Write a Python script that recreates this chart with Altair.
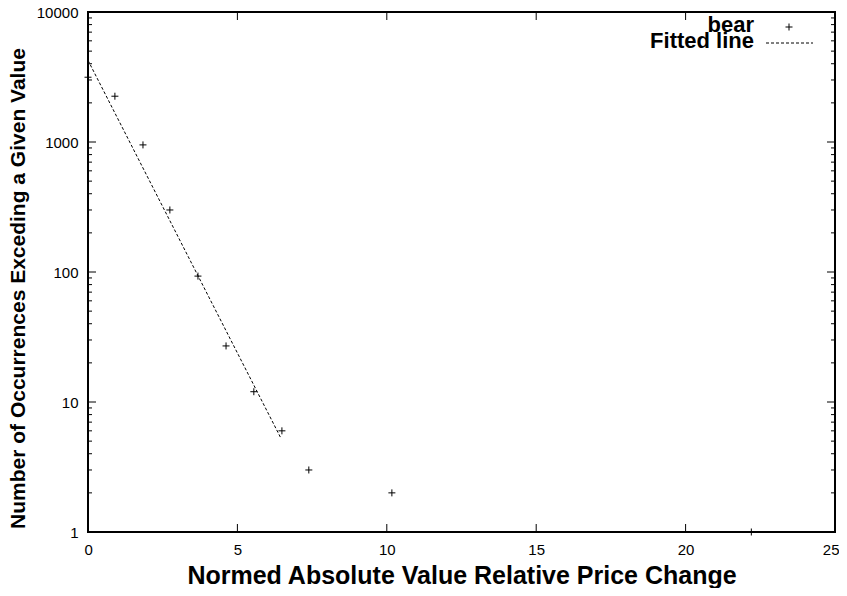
import altair as alt
import pandas as pd

# ---- data ----
bear_x = [0.0, 0.9, 1.84, 2.74, 3.68, 4.62, 5.55, 6.49, 7.39, 10.17, 22.2]
bear_y = [3150, 2250, 950, 300, 93, 27, 12, 6, 3, 2, 1]
fit_x = [0.0, 6.45]
fit_y = [4250, 5.3]
x_ticks = [0, 5, 10, 15, 20, 25]
y_major = [1, 10, 100, 1000, 10000]
y_minor = [m * 10 ** k for k in range(4) for m in range(2, 10)]
legend_labels = ["bear", "Fitted line"]

W, H = 747, 520
FONT = "Liberation Sans"
PLUS = "M-1,0L1,0M0,-1L0,1"

xs = alt.Scale(domain=[0, 25], nice=False, zero=False)
ys = alt.Scale(type="log", domain=[1, 10000], nice=False)

xaxis = alt.Axis(
    title="Normed Absolute Value Relative Price Change",
    values=x_ticks, ticks=False, domain=False, grid=False,
    labelFlush=True, labelFlushOffset=4, labelPadding=10, labelFontSize=15,
    labelColor="black",
    labelFont=FONT, titleFont=FONT, titleFontSize=25, titleFontWeight="bold",
    titleColor="black", titleX=W / 2, titleY=51, titleBaseline="alphabetic",
    titleAlign="center",
)
yaxis = alt.Axis(
    title="Number of Occurrences Exceding a Given Value",
    values=y_major, format="d", ticks=False, domain=False, grid=False,
    labelPadding=10, labelFontSize=15, labelColor="black", labelFont=FONT,
    titleFont=FONT, titleFontSize=21, titleFontWeight="bold", titleColor="black",
    titleX=-70, titleY=276, titleAngle=270, titleAlign="center",
    titleBaseline="middle",
)

bear = pd.DataFrame({"x": bear_x, "y": bear_y})
fit = pd.DataFrame({"x": fit_x, "y": fit_y})

points = alt.Chart(bear).mark_point(
    shape=PLUS, size=49, filled=False, color="black", strokeWidth=1, opacity=1
).encode(
    x=alt.X("x:Q", scale=xs, axis=xaxis),
    y=alt.Y("y:Q", scale=ys, axis=yaxis),
)

line = alt.Chart(fit).mark_line(
    color="black", strokeWidth=1, strokeDash=[3, 2]
).encode(
    x=alt.X("x:Q", scale=xs, axis=xaxis),
    y=alt.Y("y:Q", scale=ys, axis=yaxis),
)

ymaj = pd.DataFrame({"y": y_major})
ymin = pd.DataFrame({"y": y_minor})
xt = pd.DataFrame({"x": x_ticks})

def yticks(df, length):
    left = alt.Chart(df).mark_rule(color="black", strokeWidth=1).encode(
        y=alt.Y("y:Q", scale=ys, axis=yaxis), x=alt.value(0), x2=alt.value(length))
    right = alt.Chart(df).mark_rule(color="black", strokeWidth=1).encode(
        y=alt.Y("y:Q", scale=ys, axis=yaxis), x=alt.value(W - length), x2=alt.value(W))
    return [left, right]

xbot = alt.Chart(xt).mark_rule(color="black", strokeWidth=1).encode(
    x=alt.X("x:Q", scale=xs, axis=xaxis), y=alt.value(H - 8), y2=alt.value(H))
xtop = alt.Chart(xt).mark_rule(color="black", strokeWidth=1).encode(
    x=alt.X("x:Q", scale=xs, axis=xaxis), y=alt.value(0), y2=alt.value(8))

lab1 = alt.Chart(pd.DataFrame({"label": [legend_labels[0]]})).mark_text(
    align="right", baseline="alphabetic", font=FONT, fontSize=22,
    fontWeight="bold", color="black"
).encode(text="label:N", x=alt.value(666), y=alt.value(20))
lab2 = alt.Chart(pd.DataFrame({"label": [legend_labels[1]]})).mark_text(
    align="right", baseline="alphabetic", font=FONT, fontSize=22,
    fontWeight="bold", color="black"
).encode(text="label:N", x=alt.value(666), y=alt.value(36))
leg_sym = alt.Chart(pd.DataFrame({"label": [legend_labels[0]]})).mark_point(
    shape=PLUS, size=49, filled=False, color="black", strokeWidth=1, opacity=1
).encode(x=alt.value(701), y=alt.value(15))
leg_line = alt.Chart(pd.DataFrame({"label": [legend_labels[1]]})).mark_rule(
    color="black", strokeWidth=1, strokeDash=[3, 2]
).encode(x=alt.value(678), x2=alt.value(725), y=alt.value(31))

chart = alt.layer(
    *yticks(ymaj, 8), *yticks(ymin, 4), xbot, xtop,
    line, points, lab1, lab2, leg_sym, leg_line,
).properties(
    width=W, height=H,
    autosize=alt.AutoSizeParams(type="none"),
    padding={"left": 80, "top": 4, "right": 4, "bottom": 56},
    background="white",
).configure_view(
    stroke="black", strokeWidth=2
)

chart.save("out.html", embed_options={"renderer": "svg", "actions": False})
